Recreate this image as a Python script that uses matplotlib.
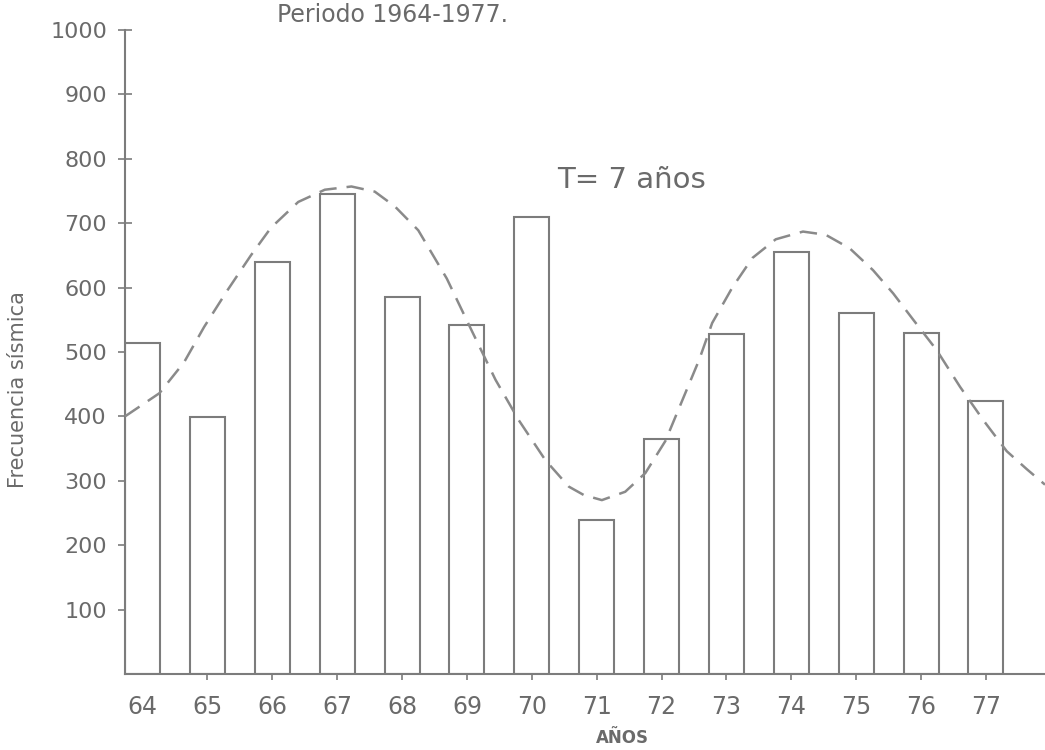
#!/usr/bin/env python3
"""
Frecuencia sísmica anual, periodo 1964-1977, con la curva de periodo T = 7 años
"""

import matplotlib
matplotlib.use("Agg")
import matplotlib.pyplot as plt

# Datos
ANOS = [64, 65, 66, 67, 68, 69, 70, 71, 72, 73, 74, 75, 76, 77]
FRECUENCIA = [514, 399, 640, 745, 585, 542, 710, 239, 365, 528, 655, 560, 529, 424]

# curva discontinua (año, frecuencia) leída punto a punto
CURVA_ANO = [63.73, 64.26, 64.64, 64.95, 65.31, 65.67, 65.98, 66.40, 66.81, 67.22,
             67.58, 67.89, 68.25, 68.69, 69.07, 69.44, 69.80, 70.21, 70.57, 70.80,
             71.08, 71.44, 71.75, 72.06, 72.32, 72.58, 72.78, 73.09, 73.40, 73.76,
             74.18, 74.53, 74.90, 75.26, 75.57, 75.88, 76.24, 76.60, 76.96, 77.32,
             77.63, 77.91]
CURVA_FREC = [400, 436, 484, 539, 596, 650, 693, 733, 752, 757,
              749, 726, 689, 614, 534, 457, 394, 332, 291, 278,
              270, 283, 312, 362, 425, 488, 545, 600, 646, 675,
              687, 682, 661, 627, 591, 550, 503, 446, 394, 346,
              318, 294]

TICKS_Y = [100, 200, 300, 400, 500, 600, 700, 800, 900, 1000]

GRIS = "#7c7c7c"
TEXTO = "#6a6a6a"


def plot_frecuencia():
    """Barras de frecuencia anual y curva ajustada"""
    fig = plt.figure(figsize=(10.45, 7.5), dpi=100)
    ax = fig.add_axes([125 / 1045, 76 / 750, 920 / 1045, 644 / 750])

    ax.bar(ANOS, FRECUENCIA, width=0.54, facecolor="white", edgecolor=GRIS,
           linewidth=1.5, zorder=2)
    ax.plot(CURVA_ANO, CURVA_FREC, color="#8a8a8a", linewidth=1.8,
            dashes=(7, 4), zorder=3, clip_on=False)

    ax.set_xlim(63.73, 77.91)
    ax.set_ylim(0, 1000)

    for lado in ["top", "right"]:
        ax.spines[lado].set_visible(False)
    for lado in ["left", "bottom"]:
        ax.spines[lado].set_color(GRIS)
        ax.spines[lado].set_linewidth(1.5)

    ax.set_yticks(TICKS_Y)
    ax.set_xticks(ANOS)
    ax.set_xticklabels([str(a) for a in ANOS])
    ax.tick_params(axis="y", direction="inout", length=10, width=1.2, color=GRIS,
                   labelsize=16, labelcolor=TEXTO, pad=8)
    ax.tick_params(axis="x", direction="inout", length=8, width=1.2, color=GRIS,
                   labelsize=17, labelcolor=TEXTO, pad=11)
    # el 64 no lleva marca (coincide con la primera barra)
    ax.xaxis.get_major_ticks()[0].tick1line.set_visible(False)

    # textos
    fig.text(277 / 1045, 1 - 22 / 750, "Periodo 1964-1977.", fontsize=17,
             color=TEXTO, ha="left", va="baseline")
    fig.text(557 / 1045, 1 - 188 / 750, "T= 7 años", fontsize=21,
             color=TEXTO, ha="left", va="baseline")
    fig.text(622 / 1045, 1 - 743 / 750, "AÑOS", fontsize=12, fontweight="bold",
             color=TEXTO, ha="center", va="baseline")
    fig.text(18 / 1045, 1 - 390 / 750, "Frecuencia sísmica", rotation=90,
             fontsize=15, color=TEXTO, ha="center", va="center")

    fig.savefig("out.png", dpi=100)


def main():
    plot_frecuencia()


if __name__ == "__main__":
    main()
